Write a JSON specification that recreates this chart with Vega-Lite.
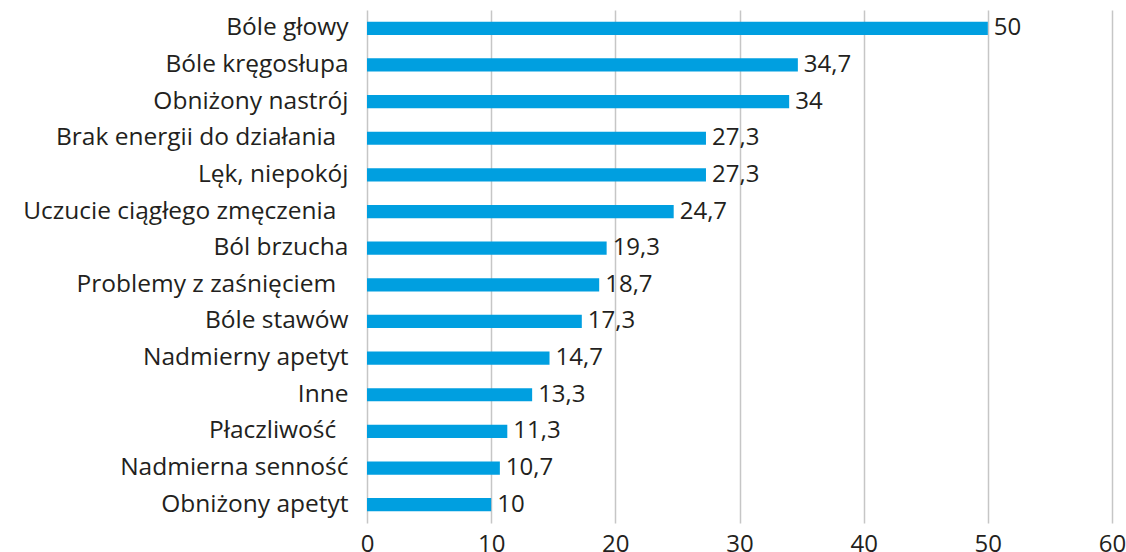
{
  "$schema": "https://vega.github.io/schema/vega-lite/v6.json",
  "autosize": "none",
  "width": 745,
  "height": 513,
  "padding": {"left": 367, "top": 10, "right": 14, "bottom": 29},
  "background": "white",
  "config": {"view": {"stroke": null}, "font": "Open Sans"},
  "data": {"values": [
    {"k": "Bóle głowy", "v": 50, "t": "50"},
    {"k": "Bóle kręgosłupa", "v": 34.7, "t": "34,7"},
    {"k": "Obniżony nastrój", "v": 34, "t": "34"},
    {"k": "Brak energii do działania\u2002\u200b", "v": 27.3, "t": "27,3"},
    {"k": "Lęk, niepokój", "v": 27.3, "t": "27,3"},
    {"k": "Uczucie ciągłego zmęczenia\u2002\u200b", "v": 24.7, "t": "24,7"},
    {"k": "Ból brzucha", "v": 19.3, "t": "19,3"},
    {"k": "Problemy z zaśnięciem\u2002\u200b", "v": 18.7, "t": "18,7"},
    {"k": "Bóle stawów", "v": 17.3, "t": "17,3"},
    {"k": "Nadmierny apetyt", "v": 14.7, "t": "14,7"},
    {"k": "Inne", "v": 13.3, "t": "13,3"},
    {"k": "Płaczliwość\u2002\u200b", "v": 11.3, "t": "11,3"},
    {"k": "Nadmierna senność", "v": 10.7, "t": "10,7"},
    {"k": "Obniżony apetyt", "v": 10, "t": "10"}
  ]},
  "encoding": {
    "y": {"field": "k", "type": "nominal", "sort": null,
      "scale": {"paddingInner": 0.64, "paddingOuter": 0.32},
      "axis": {"title": null, "domain": false, "ticks": false, "labelFontSize": 24.5, "labelColor": "#231f20", "labelPadding": 19, "labelLimit": 400}},
    "x": {"field": "v", "type": "quantitative",
      "scale": {"domain": [0, 60], "nice": false},
      "axis": {"title": null, "domain": false, "ticks": false, "values": [0, 10, 20, 30, 40, 50, 60], "labelFontSize": 24, "labelColor": "#231f20", "labelPadding": 9, "gridColor": "#c6c6c6", "gridWidth": 1.5, "labelFlush": false}}
  },
  "layer": [
    {"mark": {"type": "bar", "color": "#009fe0"}},
    {"mark": {"type": "text", "align": "left", "dx": 6, "fontSize": 24, "color": "#231f20"},
     "encoding": {"text": {"field": "t"}}}
  ]
}
